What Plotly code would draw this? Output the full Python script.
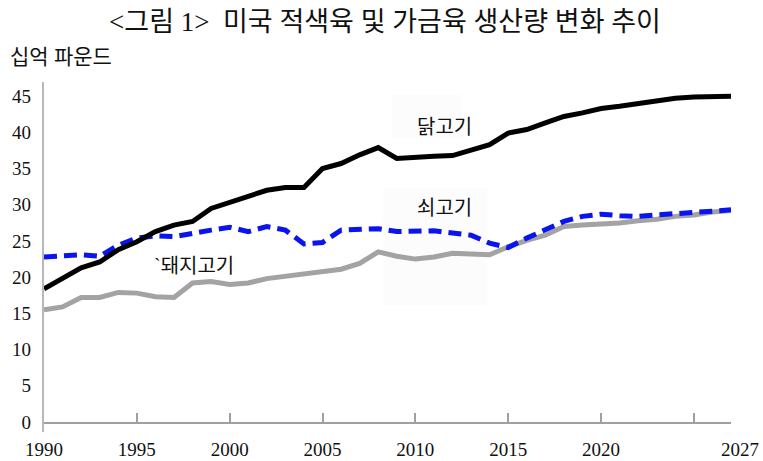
import plotly.graph_objects as go

years = list(range(1990, 2028))

chicken = [18.4, 19.9, 21.3, 22.1, 23.8, 24.9, 26.3, 27.2, 27.7, 29.5,
           30.3, 31.1, 32.0, 32.4, 32.4, 35.0, 35.7, 36.9, 37.9, 36.4,
           36.6, 36.7, 36.8, 37.6, 38.3, 39.9, 40.4, 41.3, 42.2, 42.7,
           43.3, 43.6, 44.0, 44.4, 44.7, 44.9, 45.0, 45.0]

beef = [22.8, 22.9, 23.1, 22.9, 24.4, 25.4, 25.7, 25.6, 26.1, 26.5,
        26.9, 26.3, 27.0, 26.5, 24.6, 24.8, 26.5, 26.6, 26.7, 26.3,
        26.4, 26.4, 26.1, 25.8, 24.7, 24.1, 25.4, 26.6, 27.7, 28.4,
        28.7, 28.5, 28.4, 28.6, 28.8, 29.0, 29.1, 29.3]

pork = [15.5, 15.9, 17.2, 17.2, 17.9, 17.8, 17.3, 17.2, 19.2, 19.4,
        19.0, 19.2, 19.8, 20.1, 20.5, 20.8, 21.1, 21.9, 23.5, 22.9,
        22.5, 22.8, 23.3, 23.2, 23.1, 24.2, 25.1, 25.8, 27.0, 27.2,
        27.3, 27.5, 27.8, 28.0, 28.4, 28.6, 29.0, 29.2]

tick_vals = [1990, 1995, 2000, 2005, 2010, 2015, 2020, 2025]
tick_text = ["1990", "1995", "2000", "2005", "2010", "2015", "2020", ""]
y_ticks = [0, 5, 10, 15, 20, 25, 30, 35, 40, 45]

FONT = "Liberation Serif, Noto Sans CJK KR, serif"

W, H = 763, 461
L, R, T, B = 44, 32.4, 82, 39
PW, PH = W - L - R, H - T - B

fig = go.Figure()
fig.add_trace(go.Scatter(x=years, y=pork, mode="lines", name="돼지고기",
                         line=dict(color="#a3a3a3", width=5)))
fig.add_trace(go.Scatter(x=years, y=beef, mode="lines", name="쇠고기",
                         line=dict(color="#0a14ee", width=5, dash="13px,7px")))
fig.add_trace(go.Scatter(x=years, y=chicken, mode="lines", name="닭고기",
                         line=dict(color="#000000", width=5)))

# faint label boxes
fig.add_shape(type="rect", xref="paper", yref="paper",
              x0=(392 - L) / PW, x1=(462 - L) / PW,
              y0=(422 - 138) / PH, y1=(422 - 95) / PH,
              fillcolor="#fcfcfc", line=dict(width=0), layer="below")
fig.add_shape(type="rect", xref="paper", yref="paper",
              x0=(383 - L) / PW, x1=(487 - L) / PW,
              y0=(422 - 305) / PH, y1=(422 - 188) / PH,
              fillcolor="#fcfcfc", line=dict(width=0), layer="below")

# y axis line extending below the x axis
fig.add_shape(type="line", xref="paper", yref="paper",
              x0=-1 / PW, x1=-1 / PW, y0=-10 / PH, y1=1,
              line=dict(color="#a0a0a0", width=1.5))

fig.add_annotation(x=2011.55, y=40.7, text="닭고기", showarrow=False,
                   font=dict(family=FONT, size=20, color="#111"))
fig.add_annotation(x=2011.55, y=29.6, text="쇠고기", showarrow=False,
                   font=dict(family=FONT, size=20, color="#111"))
fig.add_annotation(x=1998.1, y=21.5, text="`돼지고기", showarrow=False,
                   font=dict(family=FONT, size=20, color="#111"))
fig.add_annotation(xref="paper", yref="paper", x=(740 - L) / PW, y=-27 / PH,
                   xanchor="center", yanchor="middle", text="2027",
                   showarrow=False,
                   font=dict(family=FONT, size=19, color="#111"))

fig.update_layout(
    width=W, height=H,
    margin=dict(l=L, r=R, t=T, b=B),
    paper_bgcolor="white", plot_bgcolor="white",
    showlegend=False,
    font=dict(family=FONT, color="#111"),
    title=dict(text="<그림 1>  미국 적색육 및 가금육 생산량 변화 추이",
               x=385 / W, xanchor="center", y=1 - 22 / H, yanchor="middle",
               font=dict(family=FONT, size=27, color="#111")),
    xaxis=dict(range=[1990, 2027], tickvals=tick_vals, ticktext=tick_text,
               showgrid=False, zeroline=False, showline=True,
               linecolor="#a0a0a0", linewidth=1.5,
               ticks="inside", ticklen=9, tickcolor="#a0a0a0", tickwidth=1.5,
               ticklabelstandoff=9, automargin=False,
               tickfont=dict(family=FONT, size=19, color="#111")),
    yaxis=dict(range=[0, 46.96], tickvals=y_ticks,
               showgrid=False, zeroline=False, showline=False,
               ticks="", ticklabelstandoff=12, automargin=False,
               tickfont=dict(family=FONT, size=19, color="#111")),
)

fig.add_annotation(xref="paper", yref="paper", x=(8 - L) / PW, y=(422 - 57) / PH,
                   xanchor="left", yanchor="middle", text="십억 파운드",
                   showarrow=False, font=dict(family=FONT, size=21, color="#111"))

fig.write_html(
    "out.html",
    config={"displayModeBar": False},
    post_script="document.body.style.margin='0';document.body.style.overflow='hidden';",
)
